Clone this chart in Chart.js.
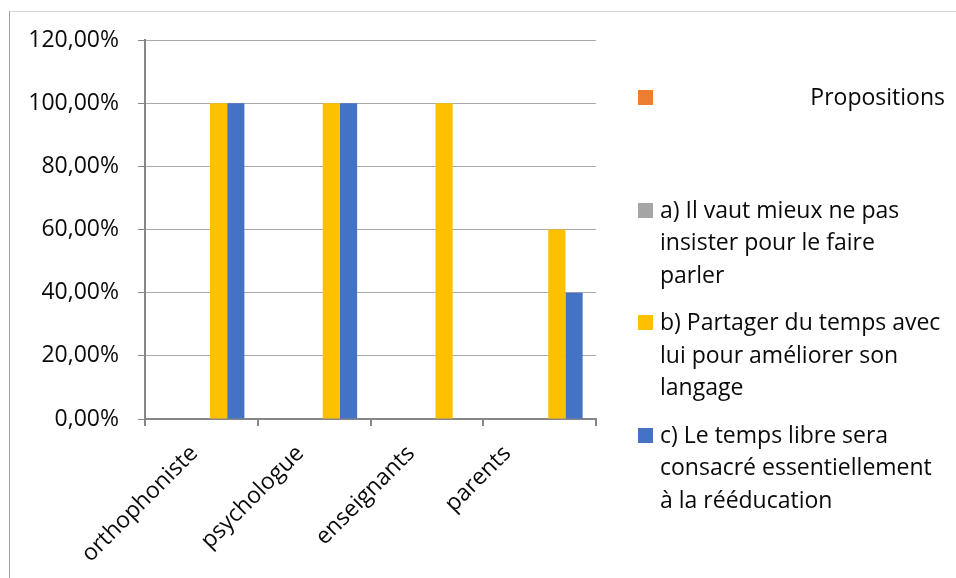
<!DOCTYPE html>
<html>
<head>
<meta charset="utf-8">
<script src="https://cdn.jsdelivr.net/npm/chart.js@4/dist/chart.umd.min.js"></script>
<style>
  html, body { margin: 0; padding: 0; background: #fff; }
  #wrap { position: relative; width: 956px; height: 578px; overflow: hidden; background: #fff; }
  #frame { position: absolute; left: 9px; top: 11px; width: 1200px; height: 1000px;
           border-left: 1px solid #9e9e9e; border-top: 1px solid #d6d6d6; box-sizing: border-box; }
  #chart { position: absolute; left: 0; top: 0; }
  #legend { position: absolute; left: 638px; top: 0; width: 318px;
            font-family: "Open Sans", sans-serif; font-size: 23px; line-height: 32.5px; color: #0a0a0a; }
  .item { position: absolute; left: 0; width: 310px; }
  .box { position: absolute; left: 0; top: 10px; width: 15px; height: 15px; }
  .txt { position: absolute; left: 22px; width: 290px; white-space: nowrap; }
</style>
</head>
<body>
<div id="wrap">
  <div id="frame"></div>
  <canvas id="chart" width="956" height="578"></canvas>
  <div id="legend"></div>
</div>
<script>
// ---- Data ----
const categories = ['orthophoniste', 'psychologue', 'enseignants', 'parents'];

const labelPropositions = ['Propositions'];
const labelA = ['a) Il vaut mieux ne pas', 'insister pour le faire', 'parler'];
const labelB = ['b) Partager du temps avec', 'lui pour améliorer son', 'langage'];
const labelC = ['c) Le temps libre sera', 'consacré essentiellement', 'à la rééducation'];

const valuesPropositions = [null, null, null, null];
const valuesA = [0, 0, 0, 0];
const valuesUnnamed = [null, null, null, null];
const valuesB = [1.00, 1.00, 1.00, 0.60];
const valuesC = [1.00, 1.00, 0.00, 0.40];

const yTicks = [0, 0.2, 0.4, 0.6, 0.8, 1.0, 1.2];

const colors = { prop: '#ED7D31', a: '#A5A5A5', b: '#FFC000', c: '#4472C4' };

const FONT = '"Open Sans", sans-serif';
const TEXT = '#0a0a0a';

const datasets = [
  { label: labelPropositions, data: valuesPropositions, backgroundColor: colors.prop },
  { label: labelA, data: valuesA, backgroundColor: colors.a },
  { label: '', data: valuesUnnamed, backgroundColor: 'rgba(0,0,0,0)', inLegend: false },
  { label: labelB, data: valuesB, backgroundColor: colors.b },
  { label: labelC, data: valuesC, backgroundColor: colors.c }
];

const htmlLegend = {
  id: 'htmlLegend',
  afterUpdate(chart) {
    const el = document.getElementById('legend');
    el.innerHTML = '';
    let idx = 0;
    chart.data.datasets.forEach(ds => {
      if (ds.inLegend === false) return;
      const item = document.createElement('div');
      item.className = 'item';
      item.style.top = (80 + idx * 112.5) + 'px';
      const box = document.createElement('div');
      box.className = 'box';
      box.style.background = ds.backgroundColor;
      const txt = document.createElement('div');
      txt.className = 'txt';
      const lines = Array.isArray(ds.label) ? ds.label : [ds.label];
      if (lines.length === 1) { txt.style.textAlign = 'right'; txt.style.width = '285px'; }
      txt.innerHTML = lines.map(s => s.replace(/&/g,'&amp;').replace(/</g,'&lt;')).join('<br>');
      item.appendChild(box);
      item.appendChild(txt);
      el.appendChild(item);
      idx++;
    });
  }
};

// Excel-style placement of the rotated category labels: the rotated label box
// is centred about half a category to the left of the tick, rather than end-anchored.
const labelShift = {
  id: 'labelShift',
  beforeDraw(chart) {
    const sc = chart.scales.x;
    const items = sc.getLabelItems();
    if (items._shifted) return;
    const ctx = chart.ctx;
    const half = (sc.right - sc.left) / categories.length / 2;
    items.forEach(it => {
      ctx.save();
      ctx.font = it.font.string;
      const w = ctx.measureText(String(it.label)).width;
      ctx.restore();
      it.options.translation[0] += -half - 5 + w * Math.SQRT1_2 / 2;
    });
    items._shifted = true;
  }
};

new Chart(document.getElementById('chart'), {
  type: 'bar',
  data: { labels: categories, datasets },
  options: {
    responsive: false,
    animation: false,
    layout: { padding: { top: 40, right: 360, bottom: 0, left: 0 } },
    datasets: { bar: { categoryPercentage: 0.763, barPercentage: 1.0, borderWidth: 0 } },
    plugins: { legend: { display: false }, tooltip: { enabled: false } },
    scales: {
      x: {
        grid: { offset: true, drawOnChartArea: false, drawTicks: true, tickLength: 7,
                tickColor: '#868686', lineWidth: 2 },
        border: { display: true, color: '#868686', width: 2 },
        ticks: { font: { family: FONT, size: 23 }, color: TEXT, maxRotation: 45, minRotation: 45,
                 padding: 14, autoSkip: false },
        afterFit: s => { s.height = 159; }
      },
      y: {
        min: 0, max: 1.2,
        afterBuildTicks: s => { s.ticks = yTicks.map(v => ({ value: v })); },
        grid: { color: '#a9a9a9', lineWidth: 1, tickLength: 7, tickColor: '#868686' },
        border: { display: true, color: '#868686', width: 2 },
        ticks: { font: { family: FONT, size: 23 }, color: TEXT, padding: 19,
                 callback: v => (v * 100).toFixed(2).replace('.', ',') + '%' },
        afterFit: s => { s.width = 145; }
      }
    }
  },
  plugins: [htmlLegend, labelShift]
});
</script>
</body>
</html>
